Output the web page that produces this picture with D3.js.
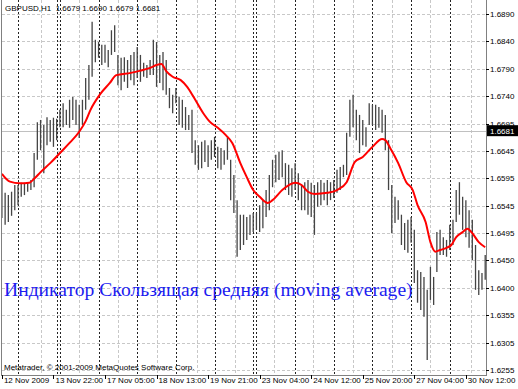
<!DOCTYPE html>
<html lang="en">
<head>
<meta charset="utf-8">
<title>GBPUSD,H1</title>
<script src="https://cdn.jsdelivr.net/npm/d3@7"></script>
<style>
  body{margin:0;background:#fff;}
  svg{display:block;}
  text{font-family:"Liberation Sans",Arial,sans-serif;}
</style>
</head>
<body>
<div id="chart"></div>
<script>
// one bar every 2 hourly slots, highs / lows
var highs = [1.6598,1.6571,1.6567,1.6573,1.6585,1.6585,1.6589,1.6589,1.6590,1.6594,
  1.6642,1.6697,1.6701,1.6692,1.6706,1.6701,1.6705,1.6703,1.6719,1.6731,
  1.6719,1.6737,1.6742,1.6737,1.6728,1.6737,1.6776,1.6799,1.6876,1.6844,
  1.6840,1.6835,1.6835,1.6826,1.6861,1.6870,1.6817,1.6812,1.6813,1.6808,
  1.6817,1.6822,1.6831,1.6817,1.6803,1.6799,1.6808,1.6844,1.6840,1.6817,
  1.6822,1.6808,1.6758,1.6746,1.6758,1.6742,1.6737,1.6724,1.6710,1.6719,
  1.6665,1.6656,1.6662,1.6665,1.6656,1.6665,1.6671,1.6653,1.6651,1.6647,
  1.6671,1.6630,1.6603,1.6558,1.6532,1.6532,1.6528,1.6532,1.6535,1.6535,
  1.6549,1.6558,1.6576,1.6603,1.6630,1.6639,1.6644,1.6647,1.6624,1.6621,
  1.6615,1.6624,1.6606,1.6585,1.6590,1.6594,1.6589,1.6585,1.6590,1.6594,
  1.6589,1.6594,1.6590,1.6594,1.6612,1.6617,1.6621,1.6678,1.6737,1.6746,
  1.6719,1.6710,1.6701,1.6688,1.6731,1.6728,1.6728,1.6724,1.6719,1.6710,
  1.6665,1.6585,1.6564,1.6558,1.6532,1.6517,1.6523,1.6528,1.6505,1.6433,
  1.6430,1.6421,1.6398,1.6439,1.6421,1.6501,1.6505,1.6492,1.6487,1.6514,
  1.6523,1.6576,1.6590,1.6564,1.6558,1.6540,1.6523,1.6478,1.6433,1.6428,
  1.6460];
var lows = [1.6526,1.6514,1.6519,1.6530,1.6540,1.6549,1.6564,1.6567,1.6573,1.6576,
  1.6581,1.6630,1.6647,1.6606,1.6656,1.6662,1.6653,1.6665,1.6688,1.6688,
  1.6692,1.6687,1.6701,1.6692,1.6669,1.6692,1.6719,1.6737,1.6778,1.6804,
  1.6812,1.6799,1.6803,1.6795,1.6817,1.6822,1.6763,1.6754,1.6769,1.6758,
  1.6772,1.6763,1.6776,1.6769,1.6778,1.6776,1.6781,1.6781,1.6760,1.6767,
  1.6754,1.6746,1.6722,1.6713,1.6731,1.6692,1.6687,1.6683,1.6683,1.6642,
  1.6621,1.6612,1.6615,1.6626,1.6617,1.6630,1.6635,1.6615,1.6612,1.6621,
  1.6630,1.6558,1.6535,1.6457,1.6469,1.6478,1.6487,1.6496,1.6501,1.6505,
  1.6501,1.6508,1.6528,1.6540,1.6581,1.6590,1.6594,1.6599,1.6576,1.6567,
  1.6564,1.6576,1.6558,1.6540,1.6540,1.6532,1.6528,1.6496,1.6546,1.6549,
  1.6558,1.6549,1.6558,1.6562,1.6571,1.6576,1.6599,1.6603,1.6671,1.6688,
  1.6665,1.6642,1.6656,1.6653,1.6692,1.6692,1.6683,1.6687,1.6678,1.6647,
  1.6576,1.6499,1.6517,1.6523,1.6478,1.6469,1.6464,1.6482,1.6410,1.6375,
  1.6362,1.6350,1.6273,1.6380,1.6371,1.6430,1.6460,1.6460,1.6457,1.6469,
  1.6478,1.6519,1.6532,1.6505,1.6492,1.6473,1.6451,1.6398,1.6389,1.6398,
  1.6416];

// moving average, sampled at hourly slots
var maSlot = [0,5,11,17,20,24,30,36,42,48,52,55,61,67,71,80,86,92,96,99,
  102,106,111,115,119,125,129,134,139,143,148,152,156,160,165,168,174,182,186,190,
  194,202,208,214,219,224,230,236,238,241,246,251,255,258,263,266,269,272,276,279,
  282,286,289,292,296,300];
var maValue = [1.6605,1.6591,1.6588,1.6589,1.6596,1.6608,1.6624,1.6642,1.6660,1.6680,
  1.6699,1.6719,1.6747,1.6767,1.6781,1.6785,1.6789,1.6794,1.6799,1.6801,
  1.6788,1.6778,1.6772,1.6760,1.6742,1.6713,1.6698,1.6687,1.6674,1.6660,
  1.6624,1.6599,1.6576,1.6564,1.6553,1.6558,1.6576,1.6589,1.6585,1.6573,
  1.6569,1.6571,1.6576,1.6590,1.6626,1.6635,1.6653,1.6667,1.6665,1.6651,
  1.6624,1.6590,1.6576,1.6549,1.6519,1.6483,1.6466,1.6469,1.6473,1.6478,
  1.6492,1.6501,1.6507,1.6499,1.6483,1.6474];

var priceLabels = ["1.6890","1.6840","1.6790","1.6740","1.6695","1.6645","1.6595",
  "1.6545","1.6495","1.6450","1.6400","1.6355","1.6305","1.6255"];
var timeLabels = ["12 Nov 2009","13 Nov 22:00","17 Nov 05:00","18 Nov 13:00","19 Nov 21:00",
  "23 Nov 04:00","24 Nov 12:00","25 Nov 20:00","27 Nov 04:00","30 Nov 12:00"];
var timeLabelSlot = [0,32,64,96,128,160,192,224,256,288];
var daySepSlot = [10,34,36,60,84,108,132,156,158,182,206,230,254,278];
var gridSlot = [24,48,72,96,121,145,169,193,218,242,266,291];
var lastPrice = 1.6681;
var header = "GBPUSD,H1  1.6679 1.6690 1.6679 1.6681";
var indicatorText = "Индикатор Скользящая средняя (moving average)";
var copyright = "Metatrader, © 2001-2009 MetaQuotes Software Corp.";

var w = 518, h = 389;
var axisX = 486, axisY = 375;

var svg = d3.select("#chart").append("svg")
  .attr("width", w).attr("height", h);

var x = d3.scaleLinear().domain([0, 300]).range([1.9, 485.2]);
var y = d3.scaleLinear().domain([1.6255, 1.6890]).range([370, 14]);

var step = (1.6890 - 1.6255) / (priceLabels.length - 1);

// horizontal grid
svg.selectAll(".hgrid").data(priceLabels).enter().append("line")
  .attr("x1", 2).attr("x2", axisX)
  .attr("y1", function(d, i) { return Math.round(y(1.6890 - i * step)) + 0.5; })
  .attr("y2", function(d, i) { return Math.round(y(1.6890 - i * step)) + 0.5; })
  .style("stroke", "#c8c8c8").style("stroke-dasharray", "3,2");

// vertical grid
svg.selectAll(".vgrid").data(gridSlot).enter().append("line")
  .attr("x1", function(d) { return Math.round(x(d)) + 0.5; })
  .attr("x2", function(d) { return Math.round(x(d)) + 0.5; })
  .attr("y1", 0).attr("y2", axisY)
  .style("stroke", "#c8c8c8").style("stroke-dasharray", "3,2");

// day separators
svg.selectAll(".sep").data(daySepSlot).enter().append("line")
  .attr("x1", function(d) { return Math.round(x(d)) + 0.5; })
  .attr("x2", function(d) { return Math.round(x(d)) + 0.5; })
  .attr("y1", 0).attr("y2", axisY)
  .style("stroke", "#222").style("stroke-dasharray", "2,2");

// bid line
svg.append("line")
  .attr("x1", 2).attr("x2", axisX)
  .attr("y1", Math.round(y(lastPrice)) + 0.5).attr("y2", Math.round(y(lastPrice)) + 0.5)
  .style("stroke", "#c0c0c0");

// bars
svg.selectAll(".bar").data(highs).enter().append("line")
  .attr("x1", function(d, i) { return x(i * 2); })
  .attr("x2", function(d, i) { return x(i * 2); })
  .attr("y1", function(d) { return y(d); })
  .attr("y2", function(d, i) { return y(lows[i]); })
  .style("stroke", "#444").style("stroke-width", 1.3);

// moving average
var line = d3.line()
  .x(function(d, i) { return x(maSlot[i]); })
  .y(function(d) { return y(d); })
  .curve(d3.curveMonotoneX);
svg.append("path").datum(maValue)
  .attr("d", line)
  .style("fill", "none").style("stroke", "#ff0000").style("stroke-width", 2);

// frame
svg.append("line").attr("x1", 1.5).attr("x2", 1.5).attr("y1", 0).attr("y2", axisY)
  .style("stroke", "#808080");
svg.append("line").attr("x1", axisX + 0.5).attr("x2", axisX + 0.5).attr("y1", 0).attr("y2", axisY + 1)
  .style("stroke", "#808080");
svg.append("line").attr("x1", 1).attr("x2", axisX + 1).attr("y1", axisY + 0.5).attr("y2", axisY + 0.5)
  .style("stroke", "#808080");

// price axis
svg.selectAll(".ptick").data(priceLabels).enter().append("line")
  .attr("x1", axisX).attr("x2", axisX + 3)
  .attr("y1", function(d, i) { return Math.round(y(1.6890 - i * step)) + 0.5; })
  .attr("y2", function(d, i) { return Math.round(y(1.6890 - i * step)) + 0.5; })
  .style("stroke", "#000");
svg.selectAll(".plabel").data(priceLabels).enter().append("text")
  .attr("x", axisX + 4)
  .attr("y", function(d, i) { return y(1.6890 - i * step) + 3; })
  .style("font-size", "8px").style("fill", "#000")
  .text(function(d) { return d; });

// last price tag
svg.append("rect")
  .attr("x", axisX + 1).attr("y", y(lastPrice) - 6)
  .attr("width", 31).attr("height", 11)
  .style("fill", "#000");
svg.append("text")
  .attr("x", axisX + 4).attr("y", y(lastPrice) + 3)
  .style("font-size", "8px").style("fill", "#fff")
  .text(lastPrice.toFixed(4));

// time axis
svg.selectAll(".ttick").data(timeLabelSlot).enter().append("line")
  .attr("x1", function(d) { return Math.round(x(d)) + 0.5; })
  .attr("x2", function(d) { return Math.round(x(d)) + 0.5; })
  .attr("y1", axisY).attr("y2", axisY + 4)
  .style("stroke", "#000");
svg.selectAll(".tlabel").data(timeLabels).enter().append("text")
  .attr("x", function(d, i) { return x(timeLabelSlot[i]) + 2; })
  .attr("y", axisY + 8)
  .style("font-size", "8px").style("fill", "#000")
  .text(function(d) { return d; });

// texts on the chart
svg.append("text").attr("x", 5).attr("y", 11)
  .style("font-size", "8px").style("fill", "#000")
  .style("white-space", "pre")
  .text(header);
svg.append("text").attr("x", 4).attr("y", 296)
  .style("font-family", "'Liberation Serif','Times New Roman',serif")
  .style("font-size", "19.6px").style("fill", "#1c1cf0")
  .text(indicatorText);
svg.append("text").attr("x", 4).attr("y", 370)
  .style("font-size", "8px").style("fill", "#000")
  .text(copyright);
</script>
</body>
</html>
